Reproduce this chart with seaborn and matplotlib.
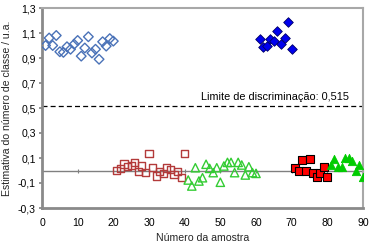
import matplotlib
matplotlib.use("Agg")
import matplotlib.pyplot as plt
import seaborn as sns
import pandas as pd
from matplotlib.ticker import FuncFormatter

sns.set_style("white")
plt.rcParams['font.family'] = ['Liberation Sans', 'DejaVu Sans']

# ---- data ----
x_g1 = list(range(1, 21))
y_g1 = [1.00, 1.06, 1.00, 1.08, 0.95, 0.945, 0.99, 0.97, 1.01, 1.04,
        0.915, 0.98, 1.07, 0.94, 0.97, 0.89, 1.03, 0.995, 1.055, 1.035]
x_g2 = list(range(21, 41))
y_g2 = [0.002, 0.017, 0.052, 0.03, 0.042, 0.065, -0.01, 0.036, -0.016, 0.138,
        0.022, -0.044, -0.007, -0.023, 0.02, 0.009, -0.029, -0.007, -0.056, 0.135]
x_g3 = list(range(41, 61))
y_g3 = [-0.076, -0.124, 0.022, -0.084, -0.058, 0.05, 0.017, -0.017, 0.022, -0.094,
        0.036, 0.065, 0.065, -0.017, 0.065, 0.044, -0.036, 0.03, -0.017, -0.023]
x_g4 = list(range(61, 71))
y_g4 = [1.052, 0.99, 0.996, 1.05, 1.04, 1.116, 1.01, 1.058, 1.186, 0.972]
x_g5 = list(range(71, 81))
y_g5 = [0.017, -0.004, 0.084, -0.004, 0.092, -0.017, -0.05, -0.023, 0.026, -0.055]
x_g6 = list(range(81, 91))
y_g6 = [0.044, 0.092, 0.03, 0.03, 0.098, 0.098, 0.078, -0.002, 0.044, -0.055]

limit = 0.515
limit_label = "Limite de discriminação: 0,515"
x_ticks = [0, 10, 20, 30, 40, 50, 60, 70, 80, 90]
y_ticks = [-0.3, -0.1, 0.1, 0.3, 0.5, 0.7, 0.9, 1.1, 1.3]
xlabel = "Número da amostra"
ylabel = "Estimativa do número de classe / u.a."

series = [
    (x_g1, y_g1, dict(marker="D", s=24, facecolor="none", edgecolor="#4a72b8", linewidth=1.0)),
    (x_g2, y_g2, dict(marker="s", s=26, facecolor="none", edgecolor="#b33a3a", linewidth=1.0)),
    (x_g3, y_g3, dict(marker="^", s=36, facecolor="none", edgecolor="#33cc33", linewidth=1.0)),
    (x_g4, y_g4, dict(marker="D", s=24, facecolor="#0000ee", edgecolor="#000066", linewidth=0.6)),
    (x_g5, y_g5, dict(marker="s", s=28, facecolor="#ff0000", edgecolor="#000000", linewidth=0.8)),
    (x_g6, y_g6, dict(marker="^", s=36, facecolor="#00cc00", edgecolor="#00cc00", linewidth=0.6)),
]

fig = plt.figure(figsize=(3.73, 2.45), dpi=100)
ax = fig.add_axes([42 / 373, 1 - 208 / 245, (363 - 42) / 373, (208 - 8) / 245])

# zero reference line (Excel-style crossing axis)
ax.axhline(0, color="#808080", lw=1.0, zorder=1)
sec = ax.secondary_xaxis((0 - (-0.3)) / 1.6)
sec.set_xticks(x_ticks)
sec.set_xticklabels([])
sec.tick_params(axis="x", direction="inout", length=3, width=0.8, color="#808080")
sec.spines["bottom"].set_visible(False)
sec.spines["top"].set_visible(False)

for xs, ys, kw in series:
    df = pd.DataFrame({"x": xs, "y": ys})
    sns.scatterplot(data=df, x="x", y="y", ax=ax, zorder=3, legend=False, **kw)

ax.axhline(limit, color="black", lw=0.9, ls=(0, (4, 2.5)), zorder=2)
ax.text(86, limit + 0.03, limit_label, ha="right", va="bottom", fontsize=7.8, color="black")

ax.set_xlim(0, 90)
ax.set_ylim(-0.3, 1.3)
ax.set_xticks(x_ticks)
ax.set_yticks(y_ticks)
fmt = FuncFormatter(lambda v, p: f"{v:.1f}".replace(".", ",").replace("-0,0", "0,0"))
ax.yaxis.set_major_formatter(fmt)
ax.tick_params(axis="both", labelsize=7.6, colors="black", length=0, pad=3)
ax.tick_params(axis="y", length=2.5, width=1.2, color="#808080", direction="out", left=True, pad=2)
ax.tick_params(axis="x", length=0, pad=7)

for s in ["left", "bottom"]:
    ax.spines[s].set_color("#8a8a8a")
    ax.spines[s].set_linewidth(2.0)
for s in ["top", "right"]:
    ax.spines[s].set_color("#a8a8a8")
    ax.spines[s].set_linewidth(1.5)

ax.set_xlabel(xlabel, fontsize=7.6, labelpad=4)
ax.set_ylabel(ylabel, fontsize=7.6, labelpad=4)

fig.savefig("out.png", dpi=100)
